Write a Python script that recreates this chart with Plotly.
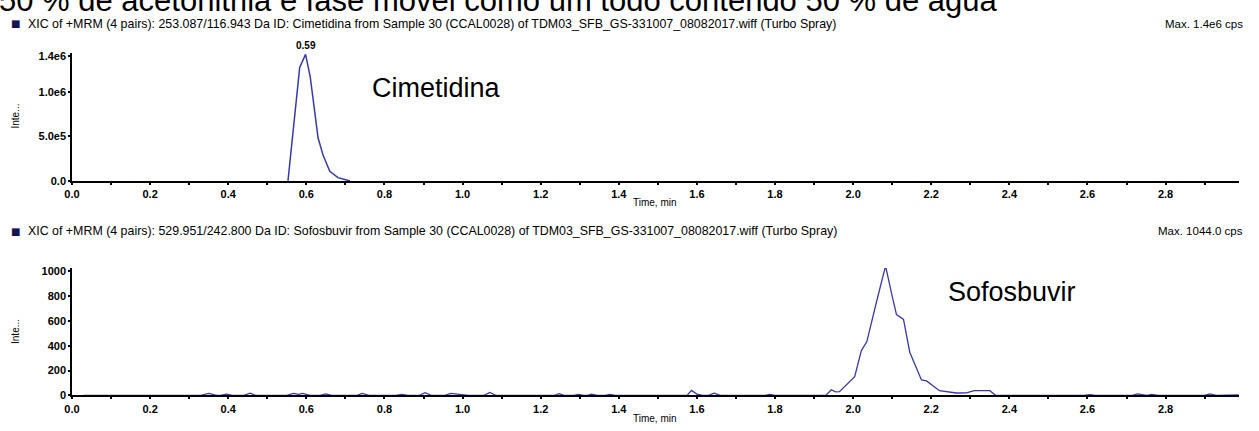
import plotly.graph_objects as go

# ---------------- data ----------------
cim_time = [0.553, 0.583, 0.598, 0.610, 0.630, 0.643, 0.660, 0.681, 0.703, 0.712]
cim_int = [0, 1.275e6, 1.42e6, 1.167e6, 0.484e6, 0.287e6, 0.108e6, 0.037e6, 0.011e6, 0]

sof_time = [0.03, 0.33, 0.35, 0.37, 0.38, 0.396, 0.41, 0.44, 0.456, 0.47, 0.55, 0.567, 0.58, 0.59,
            0.61, 0.635, 0.65, 0.665, 0.73, 0.743, 0.76, 0.83, 0.844, 0.86, 0.89, 0.904, 0.92,
            0.955, 0.97, 0.985, 1.0, 1.015, 1.055, 1.07, 1.085, 1.235, 1.247, 1.26, 1.285, 1.297,
            1.31, 1.32, 1.33, 1.345, 1.365, 1.378, 1.39, 1.575, 1.586, 1.60, 1.615, 1.63, 1.644,
            1.66, 1.775, 1.786, 1.80, 1.93, 1.944, 1.955, 1.965, 1.974, 1.995, 2.004, 2.021, 2.035,
            2.059, 2.083, 2.100, 2.111, 2.129, 2.145, 2.175, 2.188, 2.221, 2.264, 2.29, 2.31, 2.35,
            2.365, 2.59, 2.607, 2.62, 2.65, 2.665, 2.68, 2.715, 2.728, 2.745, 2.752, 2.765, 2.78,
            2.90, 2.913, 2.93, 2.987]
sof_int = [0, 0, 15, 0, 0, 10, 0, 0, 18, 0, 0, 15, 8, 15,
           0, 0, 12, 0, 0, 15, 0, 0, 8, 0, 0, 22, 0,
           0, 15, 10, 10, 0, 0, 24, 0, 0, 14, 0, 0, 8,
           0, 0, 10, 0, 0, 8, 0, 0, 40, 10, 0, 0, 18,
           0, 0, 8, 0, 0, 45, 28, 30, 58, 124, 150, 361, 432,
           743, 1044, 800, 651, 612, 348, 124, 116, 37, 19, 20, 38, 38,
           0, 0, 6, 0, 0, 6, 0, 0, 12, 0, 0, 8, 0,
           0, 12, 0, 3]

x_ticks = [0.0, 0.2, 0.4, 0.6, 0.8, 1.0, 1.2, 1.4, 1.6, 1.8, 2.0, 2.2, 2.4, 2.6, 2.8]
x_ticktext = ["0.0", "0.2", "0.4", "0.6", "0.8", "1.0", "1.2", "1.4", "1.6", "1.8", "2.0",
              "2.2", "2.4", "2.6", "2.8"]
y1_ticks = [0, 5e5, 1e6, 1.4e6]
y1_ticktext = ["0.0", "5.0e5", "1.0e6", "1.4e6"]
y2_ticks = [0, 200, 400, 600, 800, 1000]
y2_ticktext = ["0", "200", "400", "600", "800", "1000"]

title_text = "50 % de acetonitrila e fase móvel como um todo contendo 50 % de água"
header1 = ("XIC of +MRM (4 pairs): 253.087/116.943 Da ID: Cimetidina from Sample 30 (CCAL0028) "
           "of TDM03_SFB_GS-331007_08082017.wiff (Turbo Spray)")
header2 = ("XIC of +MRM (4 pairs): 529.951/242.800 Da ID: Sofosbuvir from Sample 30 (CCAL0028) "
           "of TDM03_SFB_GS-331007_08082017.wiff (Turbo Spray)")
max1 = "Max. 1.4e6 cps"
max2 = "Max. 1044.0 cps"
peak1_label = "0.59"
peak2_label = "2.09"
name1 = "Cimetidina"
name2 = "Sofosbuvir"
y_title = "Inte..."
x_title = "Time, min"

# ---------------- layout helpers ----------------
W, H = 1259, 431
ML, MR = 72, 20
PW = W - ML - MR


def px(xp):
    return (xp - ML) / PW


def py(yp):
    return 1 - yp / H


FONT = "Liberation Sans, Arial, sans-serif"
LINE_COLOR = "#3838a8"

fig = go.Figure()
fig.add_trace(go.Scatter(x=cim_time, y=cim_int, mode="lines", xaxis="x", yaxis="y",
                         line=dict(color=LINE_COLOR, width=1.5), showlegend=False,
                         hoverinfo="skip"))
fig.add_trace(go.Scatter(x=sof_time, y=sof_int, mode="lines", xaxis="x2", yaxis="y2",
                         line=dict(color=LINE_COLOR, width=1.3), showlegend=False,
                         hoverinfo="skip"))

tickfont = dict(family=FONT, size=11, color="black", weight="bold")

xcommon = dict(range=[0, 2.988], showgrid=False, zeroline=False, showline=True,
               linecolor="black", linewidth=2, ticks="outside", ticklen=2, tickwidth=2,
               tickcolor="black", tickvals=x_ticks, ticktext=x_ticktext, tickfont=tickfont,
               minor=dict(tickvals=[0.1, 0.3, 0.5, 0.7, 0.9, 1.1, 1.3, 1.5, 1.7, 1.9, 2.1,
                                    2.3, 2.5, 2.7, 2.9], ticks="outside", ticklen=2,
                          tickwidth=2, tickcolor="black"),
               fixedrange=True)
ycommon = dict(showgrid=False, zeroline=False, showline=True, linecolor="black",
               linewidth=1.5, ticks="outside", ticklen=2, tickwidth=1.5, tickcolor="black",
               tickfont=tickfont, fixedrange=True)

fig.update_layout(
    width=W, height=H,
    margin=dict(l=ML, r=MR, t=0, b=0),
    paper_bgcolor="white", plot_bgcolor="white",
    font=dict(family=FONT, color="black"),
    xaxis=dict(domain=[0, 1], anchor="y", **xcommon),
    yaxis=dict(domain=[py(181.7), py(50.7)], anchor="x", range=[0, 1.44e6],
               tickvals=y1_ticks, ticktext=y1_ticktext, **ycommon),
    xaxis2=dict(domain=[0, 1], anchor="y2", **xcommon),
    yaxis2=dict(domain=[py(400.7), py(270.7)], anchor="x2", range=[0, 1027],
                tickvals=y2_ticks, ticktext=y2_ticktext, **ycommon),
)

ann = []
# cropped big title
ann.append(dict(text=title_text, xref="paper", yref="paper", x=px(-3), y=py(17),
                xanchor="left", yanchor="bottom", showarrow=False,
                font=dict(family=FONT, size=31, color="black")))
for hy, htxt, mtxt in [(21, header1, max1), (233, header2, max2)]:
    ann.append(dict(text="■", xref="paper", yref="paper", x=px(9), y=py(hy),
                    xanchor="left", yanchor="middle", showarrow=False,
                    font=dict(family="DejaVu Sans", size=10, color="#14145a")))
    ann.append(dict(text=htxt, xref="paper", yref="paper", x=px(26), y=py(hy),
                    xanchor="left", yanchor="middle", showarrow=False,
                    font=dict(family=FONT, size=12.4, color="black")))
    ann.append(dict(text=mtxt, xref="paper", yref="paper", x=px(1245), y=py(hy),
                    xanchor="right", yanchor="middle", showarrow=False,
                    font=dict(family=FONT, size=11.5, color="black")))
# y titles
for yc in [116, 336]:
    ann.append(dict(text=y_title, xref="paper", yref="paper", x=px(16), y=py(yc),
                    xanchor="center", yanchor="middle", textangle=-90, showarrow=False,
                    font=dict(family=FONT, size=10, color="black")))
# x titles
for yc in [204, 424]:
    ann.append(dict(text=x_title, xref="paper", yref="paper", x=px(655), y=py(yc),
                    xanchor="center", yanchor="middle", showarrow=False,
                    font=dict(family=FONT, size=10, color="black")))
# peak labels (data anchored)
ann.append(dict(text=peak1_label, xref="x", yref="y", x=cim_time[2], y=max(cim_int),
                xanchor="center", yanchor="bottom", yshift=1, showarrow=False,
                font=dict(family=FONT, size=10, color="black", weight="bold")))
ann.append(dict(text=peak2_label, xref="x2", yref="y2", x=sof_time[sof_int.index(max(sof_int))],
                y=max(sof_int), xanchor="center", yanchor="bottom", yshift=1, showarrow=False,
                font=dict(family=FONT, size=10, color="black", weight="bold")))
# compound names
ann.append(dict(text=name1, xref="paper", yref="paper", x=px(436), y=py(87),
                xanchor="center", yanchor="middle", showarrow=False,
                font=dict(family=FONT, size=27, color="black")))
ann.append(dict(text=name2, xref="paper", yref="paper", x=px(1012), y=py(295),
                xanchor="center", yanchor="middle", showarrow=False,
                font=dict(family=FONT, size=27, color="black")))

fig.update_layout(annotations=ann)
fig.write_html("out.html")
